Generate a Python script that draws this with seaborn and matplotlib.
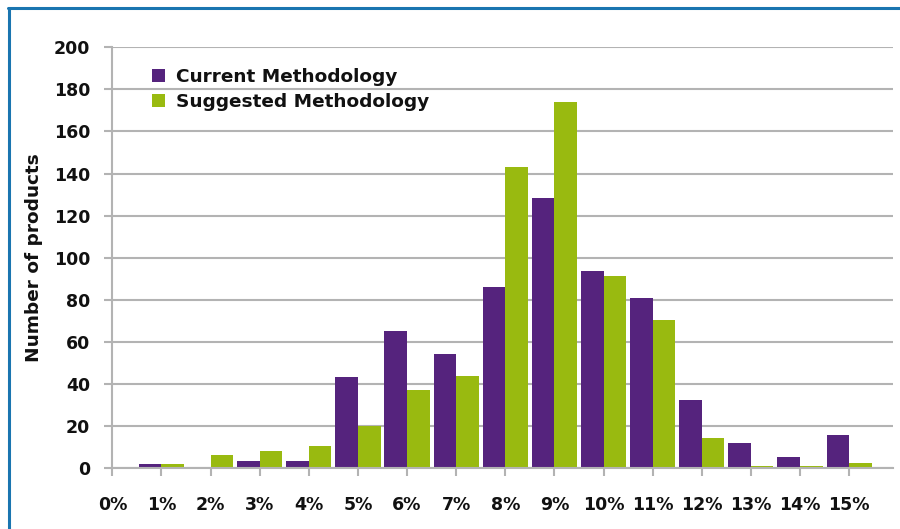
import numpy as np
import pandas as pd
import matplotlib.pyplot as plt
from matplotlib.lines import Line2D
import seaborn as sns

# Rate buckets (percent) and product counts
rates = [1, 2, 3, 4, 5, 6, 7, 8, 9, 10, 11, 12, 13, 14, 15]
current = [2, 0, 3.5, 3.5, 43.5, 65, 54.5, 86, 128.5, 93.7, 81, 32.5, 12, 5.5, 15.8]
suggested = [2, 6.3, 8.2, 10.6, 20, 37.3, 44, 143, 174, 91.4, 70.5, 14.4, 1.2, 1.2, 2.5]
series_names = ["Current Methodology", "Suggested Methodology"]
tick_values = list(range(0, 16))
tick_labels = [f"{v}%" for v in tick_values]

PURPLE = "#55237D"
GREEN = "#99BA10"
GRID = "#B3B3B3"
FRAME = "#1A75B0"
TEXT = "#111111"


def build_frame():
    """Long-format table for seaborn."""
    cur = pd.DataFrame({"rate": rates, "count": current, "method": series_names[0]})
    sug = pd.DataFrame({"rate": rates, "count": suggested, "method": series_names[1]})
    return pd.concat([cur, sug], ignore_index=True)


def main():
    sns.set_style("white")
    plt.rcParams["font.family"] = ["DejaVu Sans"]
    plt.rcParams["font.weight"] = "bold"
    plt.rcParams["text.color"] = TEXT
    plt.rcParams["axes.labelcolor"] = TEXT
    plt.rcParams["xtick.labelcolor"] = TEXT
    plt.rcParams["ytick.labelcolor"] = TEXT

    df = build_frame()

    fig = plt.figure(figsize=(9, 5.29), dpi=100)
    ax = fig.add_axes([0.1248, 0.1147, 0.8678, 0.7959])

    sns.barplot(data=df, x="rate", y="count", hue="method", native_scale=True,
                width=0.92, gap=0, palette=[PURPLE, GREEN], saturation=1,
                linewidth=0, errorbar=None, ax=ax, zorder=3)

    ax.set_xlim(0, 15.9)
    ax.set_ylim(0, 200)
    ax.set_yticks(np.arange(0, 201, 20))
    ax.set_xticks(tick_values)
    ax.set_xticklabels(tick_labels)

    ax.yaxis.grid(True, color=GRID, linewidth=1.5, zorder=0)
    ax.xaxis.grid(False)
    for side in ["top", "right"]:
        ax.spines[side].set_visible(False)
    for side in ["left", "bottom"]:
        ax.spines[side].set_color(GRID)
        ax.spines[side].set_linewidth(1.5)
        ax.spines[side].set_zorder(4)

    ax.tick_params(axis="x", length=6, width=1.5, color=GRID, pad=14,
                   labelsize=12.5, direction="out", bottom=True)
    ax.tick_params(axis="y", length=6, width=1.5, color=GRID, pad=10,
                   labelsize=12.5, direction="out", left=True)
    for lab in ax.get_xticklabels() + ax.get_yticklabels():
        lab.set_fontweight("bold")

    ax.set_xlabel("")
    ax.set_ylabel("Number of products", fontsize=13.3, fontweight="bold", labelpad=8)

    ax.legend(loc="upper left", bbox_to_anchor=(0.03, 0.991), frameon=False,
              handlelength=0.7, handleheight=0.7, handletextpad=0.6,
              labelspacing=0.4, prop={"size": 13.3, "weight": "bold"})

    # blue frame lines at top and left of the picture
    fig.add_artist(Line2D([8 / 900, 1], [1 - 7.5 / 529] * 2, color=FRAME, linewidth=2.2))
    fig.add_artist(Line2D([8.5 / 900] * 2, [0, 1 - 7.5 / 529], color=FRAME, linewidth=2.2))

    fig.savefig("out.png", dpi=100)
    plt.close(fig)


if __name__ == "__main__":
    main()
